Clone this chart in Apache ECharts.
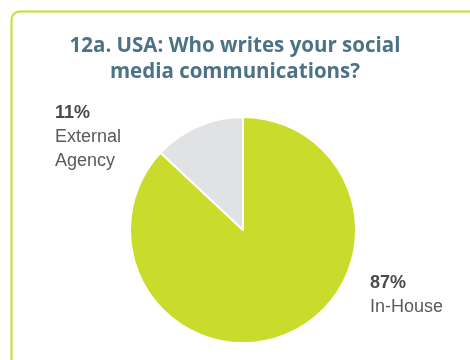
<!DOCTYPE html>
<html><head><meta charset="utf-8">
<script src="https://cdn.jsdelivr.net/npm/echarts@6/dist/echarts.min.js"></script>
<style>html,body{margin:0;padding:0;background:#fff}#c{width:470px;height:360px}</style>
</head><body><div id="c"></div>
<script>
var titleText = "12a. USA: Who writes your social\nmedia communications?";
var categories = ["In-House", "External Agency"];
var values = [87, 13];
var labelPercents = ["87%", "11%"];
var labelNames = ["In-House", "External\nAgency"];
var colors = ["#c9dc2b", "#e1e2e4"];
var labelPos = [{x: 370, y: 271}, {x: 55, y: 101}];

var chart = echarts.init(document.getElementById('c'), null, {renderer: 'canvas'});
chart.setOption({
  animation: false,
  title: {
    text: titleText, left: 'center', top: 28,
    textStyle: {fontFamily: 'Open Sans', fontWeight: 'bold', fontSize: 20.5, color: '#4b7385', lineHeight: 26}
  },
  graphic: [{
    type: 'rect', left: 9, top: 9, shape: {width: 490, height: 400, r: 8},
    style: {fill: 'none', stroke: '#c9dc2b', lineWidth: 2}
  }],
  series: [{
    type: 'pie', center: [243, 230], radius: 113, startAngle: 90, clockwise: true,
    itemStyle: {borderColor: '#fff', borderWidth: 2},
    labelLine: {show: false},
    data: categories.map(function (c, i) {
      return {name: c, value: values[i], itemStyle: {color: colors[i]}};
    }),
    label: {
      show: true, position: 'outside', align: 'left',
      formatter: function (p) { return '{p|' + labelPercents[p.dataIndex] + '}\n{n|' + labelNames[p.dataIndex].split('\n').join('}\n{n|') + '}'; },
      rich: {
        p: {fontFamily: 'Liberation Sans', fontWeight: 'bold', fontSize: 18, color: '#4a4a4a', lineHeight: 24},
        n: {fontFamily: 'Liberation Sans', fontSize: 18, color: '#5a5a5a', lineHeight: 24}
      }
    },
    labelLayout: function (p) {
      var pos = labelPos[p.dataIndex];
      return {x: pos.x, y: pos.y, align: 'left', verticalAlign: 'top'};
    }
  }]
});
</script></body></html>
